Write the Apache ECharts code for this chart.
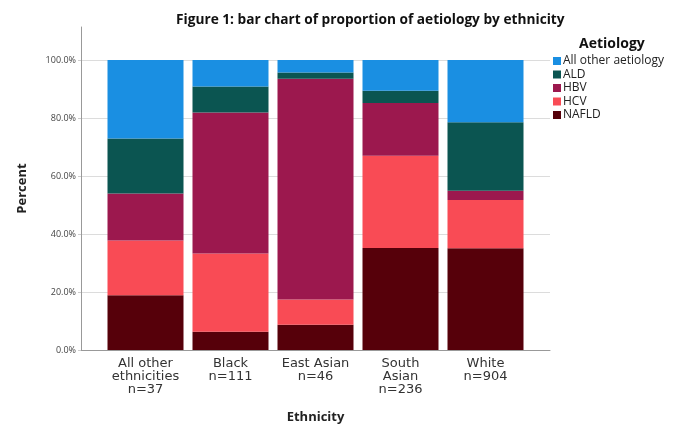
<!DOCTYPE html>
<html>
<head>
<meta charset="utf-8">
<script src="https://cdn.jsdelivr.net/npm/echarts@6/dist/echarts.min.js"></script>
<style>html,body{margin:0;padding:0;background:#fff}#c{width:674px;height:424px}</style>
</head>
<body>
<div id="c"></div>
<script>
var categories = ['All other\nethnicities\nn=37', 'Black\nn=111', 'East Asian\nn=46', 'South\nAsian\nn=236', 'White\nn=904'];
var legendOrder = ['All other aetiology', 'ALD', 'HBV', 'HCV', 'NAFLD'];
var nafld = [18.9, 6.3, 8.7, 35.2, 35.1];
var hcv   = [18.9, 27.0, 8.7, 31.8, 16.6];
var hbv   = [16.2, 48.6, 76.1, 18.2, 3.2];
var ald   = [18.9, 9.0, 2.2, 4.2, 23.6];
var other = [27.1, 9.1, 4.3, 10.6, 21.5];
var yTicks = [0, 20, 40, 60, 80, 100];

var FONT = '"Open Sans", "DejaVu Sans", sans-serif';
var LFONT = '"DejaVu Sans", sans-serif';
var colors = {
  'NAFLD': '#56000a',
  'HCV': '#f94b55',
  'HBV': '#9c184e',
  'ALD': '#0b5551',
  'All other aetiology': '#1a8fe2'
};
var stackSeries = [
  ['NAFLD', nafld], ['HCV', hcv], ['HBV', hbv], ['ALD', ald], ['All other aetiology', other]
];

var chart = echarts.init(document.getElementById('c'), null, {renderer: 'canvas'});
chart.setOption({
  backgroundColor: '#ffffff',
  animation: false,
  title: [
    {text: 'Figure 1: bar chart of proportion of aetiology by ethnicity', left: 171, top: 8,
     textStyle: {fontFamily: FONT, fontSize: 13.7, fontWeight: 'bold', color: '#111'}},
    {text: 'Aetiology', left: 574, top: 32,
     textStyle: {fontFamily: FONT, fontSize: 14, fontWeight: 'bold', color: '#111'}}
  ],
  legend: {
    data: legendOrder, orient: 'vertical', left: 548, top: 50,
    itemWidth: 8, itemHeight: 8, itemGap: 1.5, icon: 'rect',
    textStyle: {fontFamily: FONT, fontSize: 12, color: '#222', padding: [0, 0, 0, -3]}
  },
  grid: [
    {left: 103, right: 146, top: 60, bottom: 74, outerBoundsMode: 'none'},
    {left: 81, right: 124, top: 60, bottom: 74, outerBoundsMode: 'none'},
    {left: 81, right: 124, top: 27, bottom: 74, outerBoundsMode: 'none'}
  ],
  xAxis: [
    {type: 'category', gridIndex: 0, data: categories,
     axisLine: {show: false}, axisTick: {show: false},
     axisLabel: {interval: 0, fontFamily: LFONT, fontSize: 13, color: '#333', lineHeight: 13, margin: 7}},
    {type: 'category', gridIndex: 1, data: categories,
     axisLine: {show: true, lineStyle: {color: '#999', width: 1}}, axisTick: {show: false},
     axisLabel: {show: false},
     name: 'Ethnicity', nameLocation: 'middle', nameGap: 61,
     nameTextStyle: {fontFamily: FONT, fontSize: 13, fontWeight: 'bold', color: '#222'}},
    {type: 'category', gridIndex: 2, data: categories, show: false}
  ],
  yAxis: [
    {type: 'value', gridIndex: 0, min: 0, max: 100, show: false},
    {type: 'value', gridIndex: 1, min: 0, max: 100, interval: 20,
     axisLine: {show: true, lineStyle: {color: '#999'}},
     axisTick: {show: true, length: 3, lineStyle: {color: '#ccc'}},
     axisLabel: {fontFamily: FONT, fontSize: 9, color: '#444', margin: 5,
                 formatter: function (v) { return yTicks.indexOf(v) >= 0 ? v.toFixed(1) + '%' : ''; }},
     splitLine: {show: true, lineStyle: {color: '#dcdcdc'}}},
    {type: 'value', gridIndex: 2, min: 0, max: 100,
     axisLine: {show: true, lineStyle: {color: '#999'}},
     axisTick: {show: false}, axisLabel: {show: false}, splitLine: {show: false},
     name: 'Percent', nameLocation: 'middle', nameGap: 52, nameRotate: 90,
     nameTextStyle: {fontFamily: FONT, fontSize: 13, fontWeight: 'bold', color: '#222'}}
  ],
  series: stackSeries.map(function (s) {
    return {
      name: s[0], type: 'bar', stack: 'total', xAxisIndex: 0, yAxisIndex: 0,
      data: s[1], barWidth: 76,
      itemStyle: {color: colors[s[0]]}
    };
  })
});
</script>
</body>
</html>
